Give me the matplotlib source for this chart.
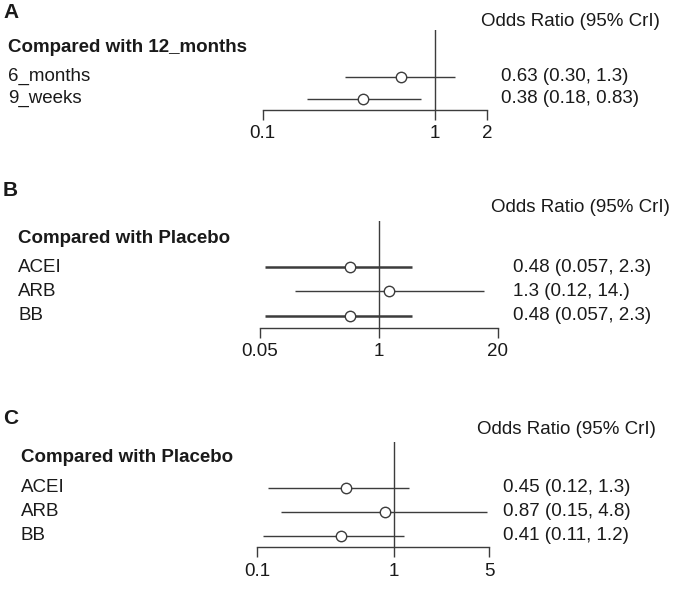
import matplotlib
matplotlib.use('Agg')
import matplotlib.pyplot as plt
import matplotlib.transforms as mtransforms
from matplotlib.ticker import NullLocator

plt.rcParams['font.family'] = ['Liberation Sans', 'DejaVu Sans']

# Panel A: compared with 12_months
a_labels = ['6_months', '9_weeks']
a_or = [0.63, 0.38]
a_lo = [0.30, 0.18]
a_hi = [1.3, 0.83]
a_text = ['0.63 (0.30, 1.3)', '0.38 (0.18, 0.83)']
a_ticks = [0.1, 1, 2]

# Panel B: compared with placebo
b_labels = ['ACEI', 'ARB', 'BB']
b_or = [0.48, 1.3, 0.48]
b_lo = [0.057, 0.12, 0.057]
b_hi = [2.3, 14, 2.3]
b_text = ['0.48 (0.057, 2.3)', '1.3 (0.12, 14.)', '0.48 (0.057, 2.3)']
b_ticks = [0.05, 1, 20]

# Panel C: compared with placebo
c_labels = ['ACEI', 'ARB', 'BB']
c_or = [0.45, 0.87, 0.41]
c_lo = [0.12, 0.15, 0.11]
c_hi = [1.3, 4.8, 1.2]
c_text = ['0.45 (0.12, 1.3)', '0.87 (0.15, 4.8)', '0.41 (0.11, 1.2)']
c_ticks = [0.1, 1, 5]

W, H = 685, 590
FS = 13.5
TXT = '#1a1a1a'
LINE = '#3c3c3c'

fig = plt.figure(figsize=(W / 100, H / 100), dpi=100)


def fx(px):
    return px / W


def fy(py):
    return 1 - py / H


def forest(letter, header, labels, est, lo, hi, texts, ticks, lw, box, pos):
    # box: pixel x of first/last tick, top of ref line, axis line, first row, row step
    x0, x1, top, axis, row0, step = box
    ax = fig.add_axes([fx(x0), fy(axis), (x1 - x0) / W, (axis - top) / H])
    ax.set_xscale('log')
    ax.set_xlim(ticks[0], ticks[-1])
    ax.set_ylim((axis - row0) / step, (top - row0) / step)
    ax.patch.set_visible(False)

    rows = list(range(len(labels)))
    ax.axvline(1, color=LINE, lw=1.0, zorder=1)
    ax.hlines(rows, lo, hi, colors=LINE, linewidth=lw, zorder=2)
    ax.plot(est, rows, 'o', mfc='white', mec=LINE, ms=7.5, mew=1.0, zorder=3)

    for s in ['top', 'right', 'left']:
        ax.spines[s].set_visible(False)
    ax.spines['bottom'].set_color(LINE)
    ax.spines['bottom'].set_linewidth(1.0)
    ax.set_yticks([])
    ax.set_xticks(ticks)
    ax.set_xticklabels([f'{t:g}' for t in ticks])
    ax.xaxis.set_minor_locator(NullLocator())
    ax.tick_params(axis='x', direction='out', length=7, width=1.0, color=LINE,
                   pad=4.5, labelsize=FS, labelcolor=TXT)

    trans = mtransforms.blended_transform_factory(fig.transFigure, ax.transData)
    for i, (lab, t) in enumerate(zip(labels, texts)):
        ax.text(fx(pos['label_x']), i, lab, transform=trans, ha='left', va='center',
                fontsize=FS, color=TXT)
        ax.text(fx(pos['or_x']), i, t, transform=trans, ha='left', va='center',
                fontsize=FS, color=TXT)

    fig.text(fx(3), fy(pos['letter_y']), letter, fontsize=15, weight='bold',
             ha='left', va='center', color=TXT)
    fig.text(fx(pos['label_x']), fy(pos['header_y']), header, fontsize=FS,
             weight='bold', ha='left', va='center', color=TXT)
    fig.text(fx(pos['orh_x']), fy(pos['orh_y']), 'Odds Ratio (95% CrI)', fontsize=FS,
             ha='left', va='center', color=TXT)
    return ax


forest('A', 'Compared with 12_months', a_labels, a_or, a_lo, a_hi, a_text, a_ticks,
       [1.0, 1.0], (262.7, 487, 29.5, 109.5, 76.5, 22),
       dict(letter_y=13, label_x=8, header_y=48, orh_x=481, orh_y=21, or_x=500.7))

forest('B', 'Compared with Placebo', b_labels, b_or, b_lo, b_hi, b_text, b_ticks,
       [1.8, 1.0, 1.8], (260, 497.7, 221, 327.5, 267, 24.4),
       dict(letter_y=190, label_x=18, header_y=238, orh_x=491, orh_y=208, or_x=513))

forest('C', 'Compared with Placebo', c_labels, c_or, c_lo, c_hi, c_text, c_ticks,
       [1.0, 1.0, 1.0], (257, 489, 442, 547, 488, 24),
       dict(letter_y=418, label_x=21, header_y=458, orh_x=477, orh_y=430, or_x=503))

fig.savefig('out.png', dpi=100)
